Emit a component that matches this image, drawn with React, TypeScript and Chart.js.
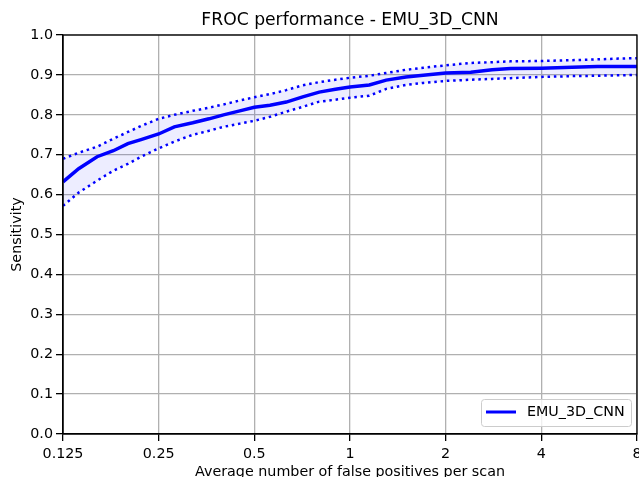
import React, { useEffect, useRef } from "react";
import { Chart, registerables } from "chart.js";

Chart.register(...registerables);

const fpRates = [0.125, 0.14, 0.16, 0.18, 0.2, 0.22, 0.25, 0.28, 0.32, 0.36, 0.4, 0.45, 0.5, 0.56, 0.63, 0.71, 0.8, 0.9, 1, 1.15, 1.3, 1.5, 1.7, 2, 2.4, 2.8, 3.2, 4, 5, 6, 7, 8];
const sensitivity = [0.632, 0.665, 0.695, 0.71, 0.728, 0.738, 0.752, 0.77, 0.78, 0.79, 0.8, 0.81, 0.819, 0.824, 0.832, 0.845, 0.857, 0.864, 0.87, 0.875, 0.887, 0.895, 0.899, 0.905, 0.907, 0.913, 0.916, 0.917, 0.919, 0.921, 0.921, 0.921];
const upperBound = [0.69, 0.705, 0.72, 0.74, 0.757, 0.772, 0.79, 0.8, 0.81, 0.818, 0.826, 0.836, 0.844, 0.852, 0.862, 0.874, 0.882, 0.888, 0.893, 0.898, 0.905, 0.913, 0.918, 0.924, 0.93, 0.932, 0.934, 0.935, 0.937, 0.939, 0.941, 0.942];
const lowerBound = [0.572, 0.605, 0.635, 0.66, 0.677, 0.695, 0.716, 0.733, 0.75, 0.76, 0.77, 0.778, 0.785, 0.795, 0.808, 0.82, 0.833, 0.838, 0.843, 0.848, 0.865, 0.875, 0.88, 0.885, 0.888, 0.89, 0.892, 0.895, 0.897, 0.898, 0.899, 0.9];
const xTicks = [0.125, 0.25, 0.5, 1, 2, 4, 8];
const seriesName = "EMU_3D_CNN";
const chartTitle = "FROC performance - EMU_3D_CNN";
const xTitle = "Average number of false positives per scan";
const yTitle = "Sensitivity";

const FONT = "'DejaVu Sans', 'Noto Sans', sans-serif";
const BLUE = "#0000ff";
const FS = 14.3;

const toPoints = (ys: number[]) => fpRates.map((x, i) => ({ x, y: ys[i] }));

const framePlugin = {
  id: "frameAndLegend",
  afterDraw(chart: any) {
    const { ctx, chartArea } = chart;
    const { left, right, top, bottom } = chartArea;
    ctx.save();
    ctx.strokeStyle = "#000";
    ctx.lineWidth = 1.3;
    ctx.strokeRect(left, top, right - left, bottom - top);

    // legend box
    const bx = 481, by = 399, bw = 150, bh = 27;
    ctx.beginPath();
    ctx.roundRect(bx + 0.5, by + 0.5, bw, bh, 3);
    ctx.fillStyle = "rgba(255,255,255,0.8)";
    ctx.fill();
    ctx.strokeStyle = "#cccccc";
    ctx.lineWidth = 1;
    ctx.stroke();
    ctx.beginPath();
    ctx.moveTo(bx + 5, by + 13);
    ctx.lineTo(bx + 35, by + 13);
    ctx.strokeStyle = BLUE;
    ctx.lineWidth = 3;
    ctx.stroke();
    ctx.fillStyle = "#000";
    ctx.font = FS + "px " + FONT;
    ctx.textBaseline = "middle";
    ctx.textAlign = "left";
    ctx.fillText(seriesName, bx + 46, by + 13.5);
    ctx.restore();
  },
};

export default function App() {
  const ref = useRef<HTMLCanvasElement | null>(null);
  useEffect(() => {
    if (!ref.current) return;
    Chart.defaults.font.family = FONT;
    Chart.defaults.color = "#000";
    const chart = new Chart(ref.current, {
      type: "line",
      data: {
        datasets: [
          {
            label: seriesName,
            data: toPoints(sensitivity),
            borderColor: BLUE,
            borderWidth: 3.5,
            pointRadius: 0,
            fill: false,
            tension: 0,
          },
          {
            label: "upper",
            data: toPoints(upperBound),
            borderColor: BLUE,
            borderWidth: 2.5,
            borderDash: [2.5, 3.8],
            pointRadius: 0,
            fill: "+1",
            backgroundColor: "rgba(0,0,255,0.07)",
            tension: 0,
          },
          {
            label: "lower",
            data: toPoints(lowerBound),
            borderColor: BLUE,
            borderWidth: 2.5,
            borderDash: [2.5, 3.8],
            pointRadius: 0,
            fill: false,
            tension: 0,
          },
        ],
      },
      options: {
        animation: false,
        responsive: false,
        maintainAspectRatio: false,
        layout: { padding: { left: 0, right: 2, top: 0, bottom: 0 } },
        plugins: {
          legend: { display: false },
          tooltip: { enabled: false },
          title: {
            display: true,
            text: chartTitle,
            fullSize: false,
            font: { size: 17.2, weight: "normal", family: FONT },
            color: "#000",
            padding: { top: 10, bottom: 4.4 },
          },
        },
        scales: {
          x: {
            type: "logarithmic",
            min: 0.125,
            max: 8,
            afterBuildTicks: (scale: any) => {
              scale.ticks = xTicks.map((v) => ({ value: v }));
            },
            afterFit: (scale: any) => {
              scale.height = 56;
              scale.paddingLeft = 0;
              scale.paddingRight = 0;
            },
            ticks: {
              autoSkip: false,
              maxRotation: 0,
              padding: 4.5,
              font: { size: FS },
              color: "#000",
              callback: (v: any) => String(v),
            },
            grid: {
              color: "#b0b0b0",
              lineWidth: 1.3,
              tickColor: "#000",
              tickLength: 7,
            },
            border: { color: "#000", width: 1.3 },
            title: {
              display: true,
              text: xTitle,
              font: { size: FS },
              color: "#000",
              padding: { top: 0, bottom: 9.6 },
            },
          },
          y: {
            min: 0,
            max: 1,
            afterFit: (scale: any) => {
              scale.width = 63;
            },
            ticks: {
              stepSize: 0.1,
              padding: 3,
              font: { size: FS },
              color: "#000",
              callback: (v: any) => Number(v).toFixed(1),
            },
            grid: {
              color: "#b0b0b0",
              lineWidth: 1.3,
              tickColor: "#000",
              tickLength: 7,
            },
            border: { color: "#000", width: 1.3 },
            title: {
              display: true,
              text: yTitle,
              font: { size: FS },
              color: "#000",
              padding: { top: 9, bottom: 0 },
            },
          },
        },
      },
      plugins: [framePlugin],
    } as any);
    return () => chart.destroy();
  }, []);
  return (
    <div style={{ position: "fixed", left: 0, top: 0, width: 639, height: 477, overflow: "hidden", background: "#fff" }}>
      <canvas ref={ref} width={639} height={490} style={{ display: "block", width: 639, height: 490 }} />
    </div>
  );
}
